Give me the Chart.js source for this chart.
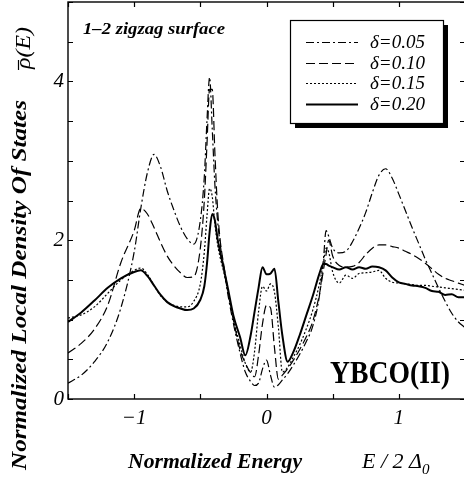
<!DOCTYPE html>
<html>
<head>
<meta charset="utf-8">
<script src="https://cdn.jsdelivr.net/npm/chart.js@4.4.1/dist/chart.umd.min.js"></script>
<style>
  html, body { margin: 0; padding: 0; background: #fff; overflow: hidden; }
  #wrap { width: 464px; height: 481px; overflow: hidden; }
</style>
</head>
<body>
<div id="wrap"><canvas id="ldos" width="467" height="481"></canvas></div>
<script>
// energy grid E / 2Δ0 (finer around the sharp peaks)
const energy = [-1.5, -1.4, -1.3, -1.2, -1.1, -1.0, -0.95, -0.9, -0.85, -0.8,
  -0.75, -0.7, -0.65, -0.6, -0.55, -0.5, -0.47, -0.45, -0.43, -0.41,
  -0.39, -0.37, -0.35, -0.32, -0.29, -0.25, -0.2, -0.16, -0.12, -0.09,
  -0.06, -0.03, 0, 0.03, 0.06, 0.09, 0.12, 0.16, 0.2, 0.25,
  0.3, 0.35, 0.4, 0.43, 0.45, 0.47, 0.5, 0.55, 0.6, 0.65,
  0.7, 0.75, 0.8, 0.85, 0.9, 0.95, 1.0, 1.05, 1.1, 1.15,
  1.2, 1.25, 1.3, 1.35, 1.4, 1.45, 1.5];

const rho005 = [0.20, 0.30, 0.47, 0.72, 1.15, 1.85, 2.40, 2.85, 3.08, 2.92,
  2.62, 2.38, 2.17, 2.02, 1.95, 2.25, 2.80, 3.50, 4.05, 3.40,
  2.70, 2.25, 1.95, 1.62, 1.30, 0.95, 0.58, 0.34, 0.22, 0.17,
  0.20, 0.38, 0.49, 0.30, 0.15, 0.18, 0.24, 0.32, 0.42, 0.56,
  0.72, 0.92, 1.30, 1.75, 2.12, 2.05, 1.90, 1.84, 1.86, 1.98,
  2.15, 2.35, 2.60, 2.82, 2.90, 2.78, 2.58, 2.37, 2.16, 1.96,
  1.76, 1.58, 1.40, 1.23, 1.08, 0.97, 0.90];

const rho010 = [0.58, 0.70, 0.88, 1.18, 1.72, 2.12, 2.40, 2.33, 2.16, 1.97,
  1.80, 1.68, 1.59, 1.53, 1.54, 1.90, 2.50, 3.20, 3.90, 3.90,
  3.10, 2.40, 2.00, 1.66, 1.36, 1.00, 0.62, 0.45, 0.33, 0.28,
  0.55, 0.95, 1.18, 1.15, 0.65, 0.25, 0.30, 0.38, 0.48, 0.62,
  0.78, 0.98, 1.32, 1.62, 1.82, 2.00, 1.80, 1.68, 1.66, 1.67,
  1.72, 1.82, 1.90, 1.94, 1.94, 1.92, 1.90, 1.86, 1.82, 1.77,
  1.71, 1.64, 1.57, 1.52, 1.49, 1.46, 1.43];

const rho015 = [1.02, 1.06, 1.16, 1.33, 1.50, 1.62, 1.65, 1.57, 1.43, 1.30,
  1.22, 1.18, 1.16, 1.16, 1.23, 1.45, 1.85, 2.30, 2.65, 2.55,
  2.20, 1.95, 1.78, 1.58, 1.33, 1.00, 0.68, 0.45, 0.34, 0.60,
  1.10, 1.42, 1.36, 1.45, 1.35, 0.90, 0.34, 0.40, 0.52, 0.68,
  0.88, 1.12, 1.45, 1.72, 1.90, 1.85, 1.60, 1.46, 1.56, 1.52,
  1.58, 1.59, 1.60, 1.62, 1.52, 1.47, 1.46, 1.45, 1.44, 1.43,
  1.43, 1.42, 1.41, 1.40, 1.39, 1.38, 1.37];

const rho020 = [0.97, 1.09, 1.24, 1.40, 1.52, 1.60, 1.62, 1.55, 1.43, 1.31,
  1.22, 1.17, 1.14, 1.12, 1.14, 1.25, 1.42, 1.70, 2.10, 2.33,
  2.25, 2.02, 1.85, 1.62, 1.38, 1.05, 0.78, 0.55, 0.80, 1.10,
  1.40, 1.66, 1.57, 1.58, 1.64, 1.22, 0.80, 0.47, 0.58, 0.80,
  1.05, 1.30, 1.58, 1.70, 1.70, 1.68, 1.66, 1.63, 1.66, 1.63,
  1.66, 1.64, 1.67, 1.66, 1.62, 1.53, 1.47, 1.45, 1.43, 1.42,
  1.40, 1.36, 1.35, 1.31, 1.32, 1.28, 1.28];

const seriesLabels = ['δ=0.05', 'δ=0.10', 'δ=0.15', 'δ=0.20'];
const xTickValues = [-1, 0, 1];
const xTickText = ['\u22121', '0', '1'];
const yTickValues = [0, 2, 4];
const yTickText = ['0', '2', '4'];

const SERIF = "'Liberation Serif', 'DejaVu Serif', serif";

function pts(vals) {
  return energy.map((e, i) => ({ x: e, y: vals[i] }));
}

function pickLabel(values, texts, v) {
  for (let i = 0; i < values.length; i++) {
    if (Math.abs(values[i] - v) < 1e-9) return texts[i];
  }
  return '';
}

function label(ctx, str, x, y, font, opts) {
  opts = opts || {};
  ctx.save();
  ctx.translate(x, y);
  if (opts.rotate) ctx.rotate(opts.rotate);
  ctx.font = font;
  ctx.fillStyle = '#000';
  ctx.textAlign = opts.align || 'left';
  ctx.textBaseline = 'alphabetic';
  const sx = opts.width ? opts.width / ctx.measureText(str).width : 1;
  ctx.scale(sx, opts.sy || 1);
  ctx.fillText(str, 0, 0);
  ctx.restore();
}

const framePlugin = {
  id: 'frame',
  afterDatasetsDraw(chart) {
    const { ctx, chartArea: a } = chart;
    const xs = chart.scales.x, ys = chart.scales.y;
    ctx.save();
    ctx.strokeStyle = '#000';
    ctx.lineWidth = 1.4;
    ctx.strokeRect(a.left, a.top, a.right - a.left, a.bottom - a.top);
    ctx.lineWidth = 1.2;
    ctx.beginPath();
    xs.ticks.forEach(t => {
      const px = Math.round(xs.getPixelForValue(t.value)) + 0.5;
      ctx.moveTo(px, a.bottom); ctx.lineTo(px, a.bottom - 5);
      ctx.moveTo(px, a.top); ctx.lineTo(px, a.top + 5);
    });
    ys.ticks.forEach(t => {
      const py = Math.round(ys.getPixelForValue(t.value)) + 0.5;
      ctx.moveTo(a.left, py); ctx.lineTo(a.left + 5, py);
      ctx.moveTo(a.right, py); ctx.lineTo(a.right - 5, py);
    });
    ctx.stroke();
    ctx.restore();
  }
};

const textPlugin = {
  id: 'texts',
  afterDraw(chart) {
    const ctx = chart.ctx;

    // legend box with drop shadow
    const bx = 290, by = 20, bw = 153, bh = 103;
    ctx.save();
    ctx.fillStyle = '#000';
    ctx.fillRect(bx + 5, by + 5, bw, bh);
    ctx.fillStyle = '#fff';
    ctx.fillRect(bx, by, bw, bh);
    ctx.strokeStyle = '#000';
    ctx.lineWidth = 1.2;
    ctx.strokeRect(bx + 0.5, by + 0.5, bw, bh);
    const rows = [42, 63, 83, 104];
    chart.data.datasets.forEach((ds, i) => {
      ctx.save();
      ctx.strokeStyle = ds.borderColor;
      ctx.lineWidth = ds.borderWidth;
      ctx.setLineDash(ds.borderDash || []);
      ctx.beginPath();
      ctx.moveTo(306, rows[i] + 0.5);
      ctx.lineTo(358, rows[i] + 0.5);
      ctx.stroke();
      ctx.restore();
      label(ctx, ds.label, 370, rows[i] + 6, 'italic 19px ' + SERIF);
    });
    ctx.restore();

    // panel annotations
    label(ctx, '1\u20132 zigzag surface', 83, 34, 'italic bold 16px ' + SERIF, { width: 142, sy: 1.05 });
    label(ctx, 'YBCO(II)', 330, 383, 'bold 28px ' + SERIF, { width: 120, sy: 1.12 });

    // y axis title
    label(ctx, 'Normalized Local Density Of States', 26, 285, 'italic bold 22px ' + SERIF,
      { rotate: -Math.PI / 2, align: 'center', width: 370 });
    label(ctx, '\u03C1(E)', 30, 48, 'italic 21px ' + SERIF, { rotate: -Math.PI / 2, align: 'center', width: 42 });
    // overline over rho
    ctx.save();
    ctx.strokeStyle = '#000';
    ctx.lineWidth = 1.2;
    ctx.beginPath();
    ctx.moveTo(18.5, 70);
    ctx.lineTo(18.5, 60);
    ctx.stroke();
    ctx.restore();

    // x axis title
    label(ctx, 'Normalized Energy', 128, 468, 'italic bold 22px ' + SERIF, { width: 174 });
    label(ctx, 'E / 2 \u0394', 362, 468, 'italic 22px ' + SERIF, { width: 60 });
    label(ctx, '0', 422, 474, 'italic 15px ' + SERIF);
  }
};

const tickFont = { family: SERIF, style: 'italic', size: 21 };

new Chart(document.getElementById('ldos'), {
  type: 'line',
  data: {
    datasets: [
      { label: seriesLabels[0], data: pts(rho005), borderColor: '#000', borderWidth: 1.2, borderDash: [8, 3, 2, 3] },
      { label: seriesLabels[1], data: pts(rho010), borderColor: '#000', borderWidth: 1.2, borderDash: [9, 4] },
      { label: seriesLabels[2], data: pts(rho015), borderColor: '#000', borderWidth: 1.2, borderDash: [2, 2] },
      { label: seriesLabels[3], data: pts(rho020), borderColor: '#000', borderWidth: 2 }
    ]
  },
  options: {
    responsive: false,
    animation: false,
    devicePixelRatio: 1,
    layout: { padding: { top: 2, right: 2, left: 0, bottom: 0 } },
    elements: {
      point: { radius: 0 },
      line: { cubicInterpolationMode: 'monotone', fill: false }
    },
    plugins: { legend: { display: false }, tooltip: { enabled: false } },
    scales: {
      x: {
        type: 'linear', min: -1.5, max: 1.5,
        grid: { display: false, drawTicks: false },
        border: { display: false },
        ticks: {
          stepSize: 0.5, autoSkip: false, maxRotation: 0, padding: 7,
          color: '#000', font: tickFont,
          callback: v => pickLabel(xTickValues, xTickText, v)
        },
        afterFit: s => { s.height = 82; s.paddingLeft = 0; s.paddingRight = 0; }
      },
      y: {
        type: 'linear', min: 0, max: 5,
        grid: { display: false, drawTicks: false },
        border: { display: false },
        ticks: {
          stepSize: 0.5, autoSkip: false, padding: 4,
          color: '#000', font: tickFont,
          callback: v => pickLabel(yTickValues, yTickText, v)
        },
        afterFit: s => { s.width = 68; s.paddingTop = 0; s.paddingBottom = 0; }
      }
    }
  },
  plugins: [framePlugin, textPlugin]
});
</script>
</body>
</html>
